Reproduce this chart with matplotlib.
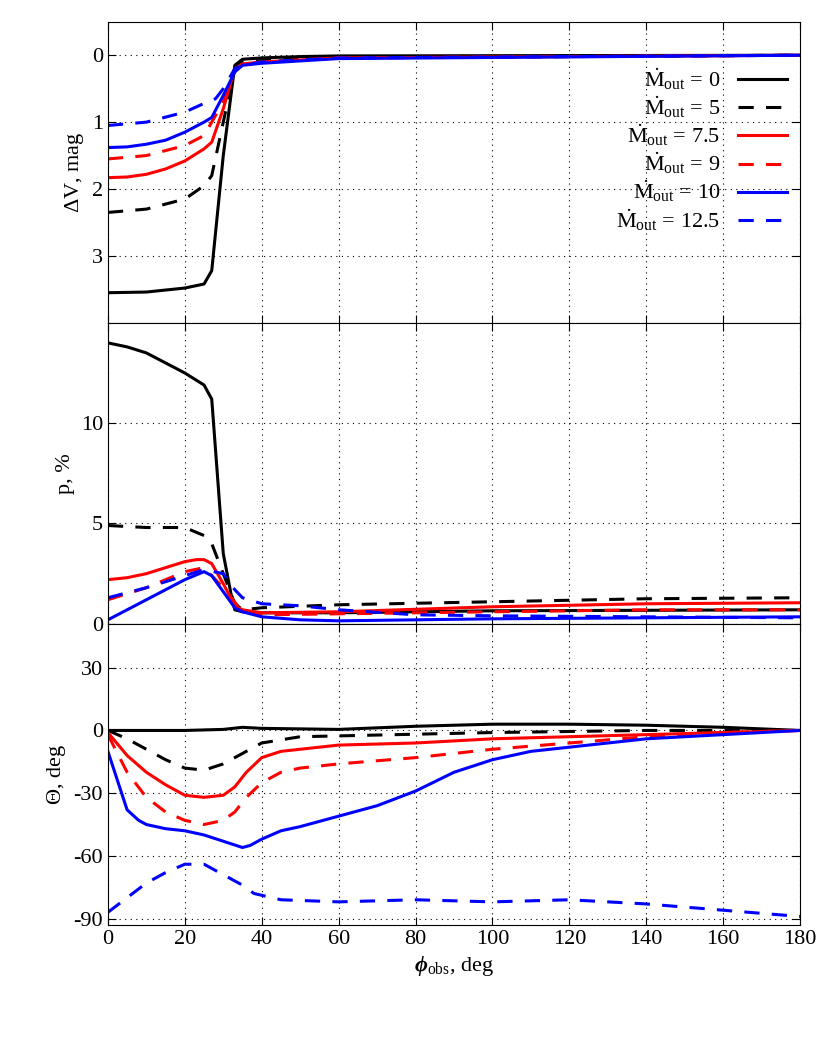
import matplotlib
matplotlib.use("Agg")
import matplotlib.pyplot as plt

plt.rcParams["font.family"] = "Liberation Serif"
plt.rcParams["mathtext.fontset"] = "custom"
plt.rcParams["mathtext.rm"] = "Liberation Serif"
plt.rcParams["mathtext.it"] = "Liberation Serif:italic"
plt.rcParams["mathtext.bf"] = "Liberation Serif:bold:italic"
plt.rcParams["axes.unicode_minus"] = False
plt.rcParams["font.size"] = 16

mdot_labels = ["0", "5", "7.5", "9", "10", "12.5"]
colors = ["black", "black", "red", "red", "blue", "blue"]
styles = ["-", (0, (5, 4)), "-", (0, (5, 4)), "-", (0, (5, 4))]

# Delta V, mag
dv_x = [
    [0, 10, 20, 25, 27, 30, 33, 35, 40, 50, 60, 180],
    [0, 10, 20, 25, 27, 30, 33, 35, 40, 60, 180],
    [0, 5, 10, 15, 20, 25, 27, 30, 33, 35, 40, 60, 180],
    [0, 10, 20, 25, 30, 33, 35, 40, 60, 180],
    [0, 5, 10, 15, 20, 25, 27, 30, 33, 35, 40, 60, 180],
    [0, 10, 20, 25, 28, 30, 33, 35, 40, 60, 180],
]
dv_y = [
    [3.55, 3.54, 3.48, 3.42, 3.22, 1.5, 0.15, 0.06, 0.04, 0.02, 0.01, 0.0],
    [2.35, 2.3, 2.15, 1.95, 1.8, 1.0, 0.2, 0.1, 0.08, 0.03, 0.0],
    [1.83, 1.82, 1.78, 1.7, 1.58, 1.4, 1.3, 0.8, 0.2, 0.13, 0.1, 0.04, 0.0],
    [1.55, 1.5, 1.35, 1.2, 0.7, 0.2, 0.15, 0.1, 0.04, 0.0],
    [1.38, 1.37, 1.33, 1.27, 1.15, 1.0, 0.93, 0.6, 0.25, 0.15, 0.12, 0.05, 0.0],
    [1.05, 1.0, 0.85, 0.72, 0.65, 0.5, 0.2, 0.15, 0.1, 0.04, 0.0],
]

# Polarization degree p, %
p_x = [
    [0, 5, 10, 15, 20, 25, 27, 30, 32, 33, 35, 40, 60, 100, 180],
    [0, 10, 20, 25, 27, 30, 33, 35, 40, 60, 100, 140, 180],
    [0, 5, 10, 15, 20, 23, 25, 27, 30, 33, 35, 40, 60, 100, 140, 180],
    [0, 10, 20, 25, 30, 35, 40, 60, 100, 140, 180],
    [0, 5, 10, 15, 20, 25, 27, 30, 33, 35, 40, 50, 60, 100, 140, 180],
    [0, 10, 20, 25, 30, 33, 35, 40, 50, 60, 80, 100, 140, 180],
]
p_y = [
    [14.0, 13.8, 13.5, 13.0, 12.5, 11.9, 11.2, 3.5, 1.5, 0.7, 0.6, 0.55, 0.55, 0.65, 0.7],
    [4.9, 4.8, 4.8, 4.4, 4.0, 2.5, 1.0, 0.7, 0.8, 0.95, 1.1, 1.25, 1.3],
    [2.2, 2.3, 2.5, 2.8, 3.1, 3.2, 3.2, 3.0, 2.0, 0.9, 0.7, 0.55, 0.6, 0.85, 1.0, 1.05],
    [1.2, 1.8, 2.6, 2.8, 1.8, 0.6, 0.45, 0.5, 0.6, 0.7, 0.7],
    [0.2, 0.7, 1.2, 1.7, 2.2, 2.6, 2.4, 1.6, 0.8, 0.6, 0.35, 0.2, 0.15, 0.25, 0.3, 0.35],
    [1.3, 1.8, 2.4, 2.7, 2.5, 1.7, 1.3, 1.0, 0.9, 0.7, 0.45, 0.4, 0.35, 0.3],
]

# Polarization angle Theta, deg
th_x = [
    [0, 20, 30, 35, 40, 60, 80, 100, 120, 140, 160, 180],
    [0, 5, 10, 15, 20, 25, 30, 35, 40, 50, 100, 140, 180],
    [0, 5, 10, 15, 20, 25, 30, 33, 36, 40, 45, 50, 60, 80, 100, 120, 140, 160, 180],
    [0, 5, 10, 15, 20, 25, 30, 33, 36, 40, 45, 50, 60, 80, 100, 120, 140, 160, 180],
    [0, 5, 8, 10, 15, 20, 25, 30, 35, 37, 40, 45, 50, 60, 70, 80, 90, 100, 110, 120, 130, 140, 160, 180],
    [0, 5, 10, 15, 20, 25, 30, 35, 38, 45, 60, 80, 100, 120, 140, 160, 180],
]
th_y = [
    [0, 0, 0.5, 1.5, 1, 0.5, 2, 3, 3, 2.5, 1.5, 0],
    [0, -4, -9, -14, -18, -19, -16, -11, -6, -3, -1, 0, 0],
    [-1, -12, -20, -26, -31, -32, -31, -27, -20, -13, -10, -9, -7, -6, -4, -3, -2, -1, 0],
    [-2, -20, -32, -39, -43, -45, -43, -39, -32, -25, -20, -18, -16, -13, -9, -6, -3, -1, 0],
    [-10, -38, -43, -45, -47, -48, -50, -53, -56, -55, -52, -48, -46, -41, -36, -29, -20, -14, -10, -8, -6, -4, -2, 0],
    [-87, -80, -73, -68, -64, -64, -69, -74, -78, -81, -82, -81, -82, -81, -83, -86, -89],
]

fig, axes = plt.subplots(3, 1, figsize=(8.30, 10.38), dpi=100, sharex=True)
fig.subplots_adjust(left=0.13, right=0.964, top=0.979, bottom=0.109, hspace=0)

panels = [
    (dv_x, dv_y, r"$\Delta$V, mag", (4.0, -0.5), [0, 1, 2, 3]),
    (p_x, p_y, "p, %", (0, 15), [0, 5, 10]),
    (th_x, th_y, r"$\Theta$, deg", (-93, 51), [-90, -60, -30, 0, 30]),
]
for ax, (xs, ys, ylabel, ylim, yticks) in zip(axes, panels):
    for i in range(len(mdot_labels)):
        ax.plot(xs[i], ys[i], color=colors[i], linestyle=styles[i], lw=2.2,
                label=r"$\dot{\rm M}_{\rm out}$ = " + mdot_labels[i])
    ax.set_ylim(*ylim)
    ax.set_yticks(yticks)
    ax.set_xlim(0, 180)
    ax.set_xticks(range(0, 181, 20))
    ax.grid(True, color="black", linestyle=(0, (1, 4)), lw=0.8)
    ax.tick_params(direction="in", top=True, right=True, length=6)
    ax.set_ylabel(ylabel, labelpad=4)

axes[0].legend(loc="upper right", bbox_to_anchor=(1.01, 0.92), frameon=False,
               markerfirst=False, handlelength=2.2, labelspacing=0.1, fontsize=16)
axes[2].set_xlabel(r"$\mathbf{\phi}_{\rm obs}$, deg")

fig.savefig("out.png", dpi=100)
